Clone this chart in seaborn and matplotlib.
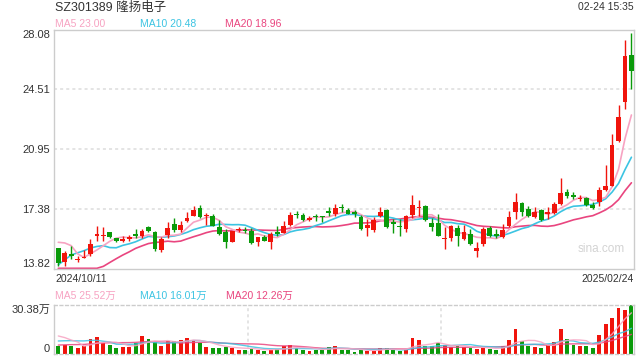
import numpy as np
import pandas as pd
import matplotlib
matplotlib.use("Agg")
import matplotlib.pyplot as plt
import seaborn as sns

# ---------------- data ----------------
title = "SZ301389 隆扬电子"
stamp = "02-24 15:35"
date_first = "2024/10/11"
date_last = "2025/02/24"
price_ticks = [13.82, 17.38, 20.95, 24.51, 28.08]
vol_max = 30.38
ma_labels = ["MA5 23.00", "MA10 20.48", "MA20 18.96"]
vol_ma_labels = ["MA5 25.52万", "MA10 16.01万", "MA20 12.26万"]

opens = [15.05, 14.25, 14.69, 14.35, 14.49, 14.73, 15.80, 15.78, 16.00, 15.64,
         15.50, 15.58, 15.90, 15.80, 16.32, 16.00, 14.97, 15.86, 16.49, 16.14,
         16.65, 16.99, 17.42, 16.95, 16.95, 16.30, 16.04, 15.44, 16.14, 16.16,
         16.10, 15.44, 15.74, 15.44, 16.00, 15.96, 16.43, 17.09, 17.03, 16.71,
         16.99, 16.91, 17.25, 17.09, 17.50, 17.33, 17.19, 16.93, 16.28, 16.14,
         16.95, 17.33, 16.59, 16.40, 16.20, 17.03, 17.46, 17.54, 16.55, 16.55,
         15.62, 15.66, 16.24, 15.60, 15.90, 14.91, 15.30, 16.26, 15.90, 15.70,
         16.35, 17.19, 17.74, 17.38, 16.93, 17.33, 17.09, 17.15, 17.68, 18.38,
         18.22, 17.96, 18.04, 17.64, 17.78, 18.53, 18.77, 21.44, 23.76, 26.55]
highs = [15.07, 14.91, 15.17, 14.57, 14.97, 15.60, 16.35, 16.30, 16.04, 15.68,
         15.76, 15.84, 16.20, 16.20, 16.36, 16.10, 15.70, 16.59, 16.83, 16.69,
         17.19, 17.58, 17.62, 17.13, 17.09, 16.75, 16.20, 16.10, 16.33, 16.33,
         16.24, 15.74, 15.84, 16.04, 16.40, 16.69, 17.23, 17.29, 17.15, 16.99,
         17.11, 16.99, 17.52, 17.68, 17.68, 17.44, 17.33, 17.05, 16.79, 16.89,
         17.52, 17.38, 16.79, 16.79, 17.03, 18.22, 17.94, 17.62, 16.83, 17.09,
         16.30, 16.43, 16.43, 16.43, 16.20, 15.44, 16.30, 16.35, 16.20, 16.49,
         17.29, 18.34, 17.82, 17.54, 17.48, 17.38, 17.48, 17.78, 19.21, 18.57,
         18.42, 18.22, 18.12, 17.78, 18.67, 20.00, 21.84, 23.56, 27.45, 27.85]
lows = [13.98, 13.98, 14.41, 14.25, 14.45, 14.57, 15.46, 15.50, 15.64, 15.40,
        15.40, 15.48, 15.64, 15.64, 16.04, 14.91, 14.85, 15.64, 16.00, 16.00,
        16.59, 16.95, 16.83, 16.45, 16.36, 15.84, 15.07, 15.44, 16.00, 15.94,
        15.30, 15.17, 15.46, 15.01, 15.76, 15.96, 16.40, 16.85, 16.69, 16.65,
        16.69, 16.63, 16.99, 16.99, 17.23, 17.07, 16.89, 16.14, 15.76, 16.04,
        16.89, 16.24, 15.96, 15.80, 16.04, 16.83, 16.95, 16.69, 16.10, 15.76,
        15.01, 15.50, 15.15, 15.54, 15.21, 14.51, 15.17, 15.70, 15.64, 15.64,
        16.30, 16.79, 16.99, 16.89, 16.83, 16.69, 16.79, 17.09, 17.62, 18.02,
        17.98, 17.88, 17.58, 17.38, 17.54, 18.47, 18.73, 21.38, 23.33, 24.51]
closes = [14.18, 14.77, 14.57, 14.41, 14.55, 15.29, 15.90, 15.84, 15.72, 15.50,
          15.60, 15.70, 15.78, 16.08, 16.08, 15.01, 15.60, 16.26, 16.14, 16.43,
          16.83, 17.32, 16.89, 17.01, 16.40, 15.90, 15.44, 16.10, 16.20, 16.10,
          15.36, 15.74, 15.50, 15.90, 15.90, 16.36, 17.03, 17.03, 16.75, 16.85,
          16.93, 16.89, 17.15, 17.42, 17.42, 17.11, 17.09, 16.20, 16.43, 16.75,
          17.19, 16.34, 16.49, 16.30, 16.99, 17.62, 17.50, 16.75, 16.34, 15.80,
          15.66, 16.36, 15.76, 16.04, 15.27, 15.07, 16.20, 15.76, 15.80, 16.14,
          16.89, 17.78, 17.23, 16.99, 17.19, 16.73, 17.23, 17.68, 18.34, 18.18,
          18.12, 18.04, 17.64, 17.44, 18.51, 18.77, 21.19, 22.87, 26.50, 25.60]
volumes = [5.1, 5.7, 5.1, 4.1, 5.1, 9.4, 10.7, 7.2, 5.7, 4.1,
           4.7, 4.7, 7.2, 11.3, 9.4, 7.8, 5.3, 8.4, 8.2, 8.8,
           10.1, 8.4, 7.2, 4.7, 4.1, 4.1, 4.7, 4.1, 2.9, 2.9,
           3.5, 2.9, 2.3, 2.7, 3.1, 5.1, 5.7, 4.1, 2.9, 2.3,
           2.9, 2.9, 4.5, 5.1, 2.9, 2.9, 1.4, 2.9, 2.3, 2.3,
           3.9, 3.9, 2.9, 2.3, 2.9, 10.1, 8.8, 5.1, 5.1, 7.2,
           5.5, 4.3, 5.1, 4.7, 4.1, 3.5, 4.1, 3.5, 2.9, 5.1,
           9.0, 15.3, 8.1, 5.4, 4.7, 4.1, 5.8, 7.5, 15.5, 9.7,
           5.9, 5.4, 5.4, 3.6, 12.1, 18.7, 22.6, 28.6, 27.4, 30.38]
# sessions before the first visible day (only feed the moving averages)
prior_closes = [10.9, 10.8, 10.7, 10.6, 10.8, 10.9, 11.0, 11.1, 11.0, 11.3,
                11.9, 11.6, 13.1, 13.3, 13.7, 14.97, 15.37, 16.86, 15.62]
prior_volumes = [3.0, 2.8, 3.2, 3.1, 2.9, 3.3, 3.0, 3.4, 3.6, 3.7,
                 4.2, 4.5, 5.5, 5.3, 6.0, 10.7, 12.6, 10.1, 18.0]

# ---------------- style ----------------
RED = "#f0140c"
GREEN = "#0a9a0a"
C_MA5 = "#f7a3c2"
C_MA10 = "#3cc4e2"
C_MA20 = "#e9457f"
FRAME = "#cccccc"
GRID = "#dddddd"
TXT = "#333333"

sns.set_theme(style="white")
plt.rcParams["font.family"] = ["Liberation Sans", "Noto Sans CJK SC", "DejaVu Sans"]

W, H = 640, 360
fig = plt.figure(figsize=(6.4, 3.6), dpi=100)
fig.patch.set_facecolor("white")

def fx(px):
    return px / W

def fy(py):
    return 1 - py / H

L, R = 54.3, 634.0
ax = fig.add_axes([fx(L), fy(268.8), fx(R - L), (268.8 - 29.5) / H])
axv = fig.add_axes([fx(L), fy(354.3), fx(R - L), (354.3 - 305.0) / H])

n = len(closes)
x = np.arange(n)
o = np.array(opens); c = np.array(closes); hi = np.array(highs); lo = np.array(lows)
up = c >= o
cols = np.where(up, RED, GREEN)

ymin, ymax = price_ticks[0], price_ticks[-1]

# moving averages
all_c = pd.Series(prior_closes + closes)
ma = {k: all_c.rolling(k).mean().iloc[len(prior_closes):].to_numpy() for k in (5, 10, 20)}
all_v = pd.Series(prior_volumes + volumes)
vma = {k: all_v.rolling(k).mean().iloc[len(prior_volumes):].to_numpy() for k in (5, 10, 20)}

# ---------------- price panel ----------------
for y in price_ticks[1:-1]:
    ax.axhline(y, color=GRID, lw=1.1, ls=(0, (2, 2)), zorder=0)

for k, col in ((20, C_MA20), (10, C_MA10), (5, C_MA5)):
    sns.lineplot(x=x, y=np.clip(ma[k], ymin + 0.03, ymax), ax=ax, color=col, lw=1.2, zorder=2)

ax.vlines(x, lo, hi, colors=cols, lw=1.0, zorder=3)
body_bottom = np.minimum(o, c)
body_h = np.maximum(np.abs(c - o), 0.06)
ax.bar(x, body_h, bottom=body_bottom, width=0.74, color=cols, lw=0, zorder=4)

ax.set_xlim(-0.62, 89.4)
ax.set_ylim(ymin, ymax)
ax.set_yticks(price_ticks)
ax.set_yticklabels([f"{t:.2f}" for t in price_ticks])
ax.tick_params(axis="y", length=0, pad=3, labelsize=8, labelcolor=TXT)
labs = ax.get_yticklabels()
labs[0].set_va("bottom")
labs[-1].set_va("top")
ax.set_xticks([])
ax.set_xlabel(""); ax.set_ylabel("")
for s in ax.spines.values():
    s.set_color(FRAME); s.set_linewidth(1.0); s.set_visible(True)
ax.text(601.5 / 1, 0, "", transform=ax.transAxes)
fig.text(fx(601.5), fy(249.5), "sina.com", ha="center", va="center",
         fontsize=8.5, color="#d3d3d3")

# ---------------- volume panel ----------------
vdf = pd.DataFrame({"i": x, "vol": volumes, "dir": np.where(up, "up", "down")})
sns.barplot(data=vdf, x="i", y="vol", hue="dir", palette={"up": RED, "down": GREEN},
            dodge=False, width=0.6, legend=False, errorbar=None, ax=axv,
            linewidth=0, saturation=1)
for k, col in ((20, C_MA20), (10, C_MA10), (5, C_MA5)):
    sns.lineplot(x=x, y=vma[k], ax=axv, color=col, lw=1.0, alpha=0.85, zorder=5)
for xv in (29.5, 59.5):
    axv.axvline(xv, color=GRID, lw=1.1, ls=(0, (2, 2)), zorder=0)
axv.set_xlim(-0.62, 89.4)
axv.set_ylim(0, vol_max)
axv.set_yticks([0, vol_max])
axv.set_yticklabels(["0", f"{vol_max:.2f}万"])
axv.tick_params(axis="y", length=0, pad=3, labelsize=8, labelcolor=TXT)
vl = axv.get_yticklabels()
vl[0].set_va("bottom")
vl[1].set_va("top")
axv.set_xticks([])
axv.set_xlabel(""); axv.set_ylabel("")
for name, s in axv.spines.items():
    s.set_visible(True)
    s.set_color(FRAME)
    s.set_linewidth(1.0)
    if name in ("top", "bottom"):
        s.set_linestyle((0, (2, 2)))

# ---------------- texts ----------------
fig.text(fx(55), fy(7.5), title, ha="left", va="center", fontsize=9, color=TXT)
fig.text(fx(634), fy(7.5), stamp, ha="right", va="center", fontsize=7.5, color=TXT)
for lab, px, col in zip(ma_labels, (55, 140, 225), (C_MA5, C_MA10, C_MA20)):
    fig.text(fx(px), fy(24), lab, ha="left", va="center", fontsize=7.5, color=col)
for lab, px, col in zip(vol_ma_labels, (55, 140, 226), (C_MA5, C_MA10, C_MA20)):
    fig.text(fx(px), fy(295.7), lab, ha="left", va="center", fontsize=7.5, color=col)
fig.text(fx(55), fy(278.5), date_first, ha="left", va="center", fontsize=7.5, color=TXT)
fig.text(fx(634), fy(278.5), date_last, ha="right", va="center", fontsize=7.5, color=TXT)

fig.savefig("out.png", dpi=100, facecolor="white")
